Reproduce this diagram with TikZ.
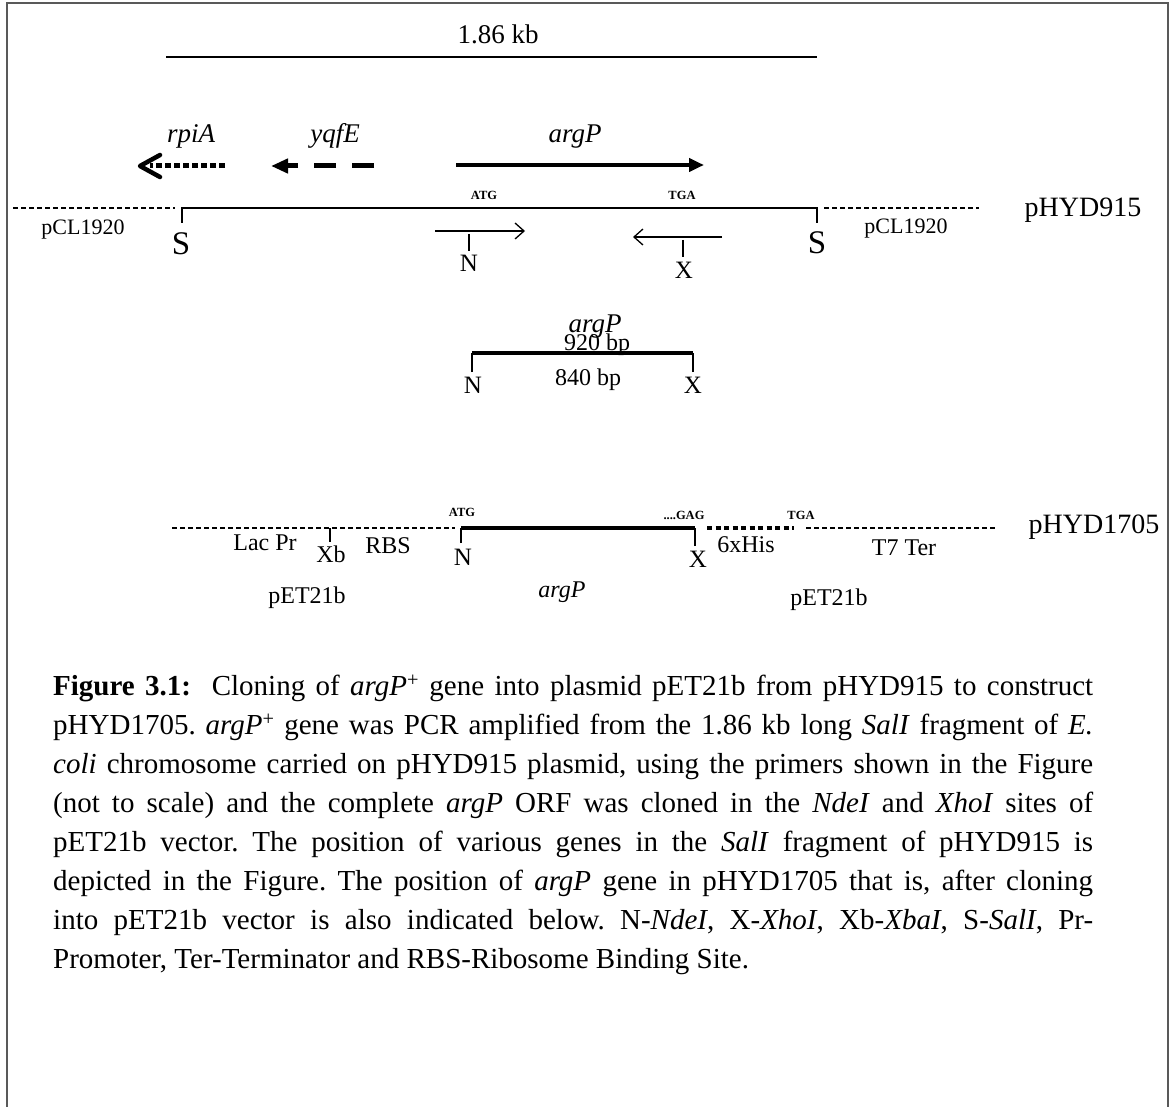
\documentclass[tikz,border=0pt]{standalone}
\usepackage{fontspec}
\setmainfont{Liberation Serif}
\usetikzlibrary{arrows.meta}
\frenchspacing
\begin{document}
\begin{tikzpicture}[x=1pt,y=-1pt,
 lbl/.style={inner sep=0pt, anchor=base},
 rm22/.style={lbl,font=\fontsize{22}{26}\selectfont},
 rm24/.style={lbl,font=\fontsize{24}{28}\selectfont},
 rm25/.style={lbl,font=\fontsize{25}{29}\selectfont},
 rm27/.style={lbl,font=\fontsize{27}{31}\selectfont},
 big/.style={lbl,font=\fontsize{28}{32}\selectfont},
 ess/.style={lbl,font=\fontsize{33}{36}\selectfont},
 gene/.style={lbl,font=\fontsize{27}{31}\selectfont\itshape},
 gsmall/.style={lbl,font=\fontsize{24}{28}\selectfont\itshape},
 codon/.style={lbl,font=\fontsize{12.5}{14}\selectfont\bfseries},
 dna/.style={line width=1.5pt},
 vec/.style={line width=1.2pt, dash pattern=on 5pt off 3pt},
 thickdna/.style={line width=3.5pt},
 tick/.style={line width=1.5pt},
 primer/.style={line width=1.3pt, -{Straight Barb[length=9pt,width=16pt,line width=1.3pt]}},
]
\useasboundingbox (0,0) rectangle (1175,1107);
% frame
\draw[line width=2pt, black!65] (7,1107) -- (7,3) -- (1168,3) -- (1168,1107);

% scale
\node[rm27] (kb) at (498,44) {1.86 kb};
\coordinate (kbL) at (166,57); \coordinate (kbR) at (817,57);
\draw[line width=2pt] (kbL) -- (kbR);

% genes
\node[gene] (rpiA) at (191,143) {rpiA};
\node[gene] (yqfE) at (335,143) {yqfE};
\node[gene] (argPt) at (575,143) {argP};
\coordinate (rpiT) at (225,166); \coordinate (rpiE) at (150,166); \coordinate (rpiH) at (140,166);
\draw[line width=5pt, dash pattern=on 6pt off 3pt] (rpiT) -- (rpiE);
\draw[line width=4.5pt, line cap=round, line join=round] (160,155) -- (rpiH) -- (160,177);
\coordinate (yqT) at (374,166); \coordinate (yqH) at (271,166);
\draw[line width=5pt, dash pattern=on 22pt off 16pt, -{Triangle[length=17pt,width=14pt]}] (yqT) -- (yqH);
\coordinate (agT) at (456,165); \coordinate (agH) at (704,165);
\draw[line width=4pt, -{Triangle[length=15pt,width=13pt]}] (agT) -- (agH);

% pHYD915
\node[codon] (atg1) at (484,200) {ATG};
\node[codon] (tga1) at (682,200) {TGA};
\coordinate (S1) at (182,208); \coordinate (S2) at (817,208);
\coordinate (S1d) at (182,223); \coordinate (S2d) at (817,223);
\draw[dna] (S1d) -- (S1) -- (S2) -- (S2d);
\coordinate (v1a) at (13,208); \coordinate (v1b) at (175,208);
\coordinate (v2a) at (824,208); \coordinate (v2b) at (979,208);
\draw[vec] (v1a) -- (v1b);
\draw[vec] (v2a) -- (v2b);
\node[rm22] (pcl1) at (83,235) {pCL1920};
\node[rm22] (pcl2) at (906,234) {pCL1920};
\node[big] (p915) at (1083,217) {pHYD915};
\node[ess] (s1) at (181,255) {S};
\node[ess] (s2) at (817,254) {S};

% primers
\coordinate (fw1) at (435,231); \coordinate (fw2) at (525,231);
\draw[primer] (fw1) -- (fw2);
\coordinate (nt1) at (469,234); \coordinate (nt2) at (469,251);
\draw[tick] (nt1) -- (nt2);
\node[rm25] (n1) at (469,272) {N};
\coordinate (rv1) at (722,237); \coordinate (rv2) at (633,237);
\draw[primer] (rv1) -- (rv2);
\coordinate (xt1) at (683,240); \coordinate (xt2) at (683,257);
\draw[tick] (xt1) -- (xt2);
\node[rm25] (x1) at (684,279) {X};

% PCR fragment
\node[gene] (argP2) at (595,332) {argP};
\node[rm24] (bp920) at (597,350) {920 bp};
\coordinate (fN) at (472,353); \coordinate (fX) at (693,353);
\coordinate (fNd) at (472,372); \coordinate (fXd) at (693,372);
\draw[line width=2pt] (fNd) -- (fN);
\draw[line width=2pt] (fXd) -- (fX);
\draw[thickdna] (fN) -- (fX);
\node[rm25] (n2) at (473,393) {N};
\node[rm25] (x2) at (693,393) {X};
\node[rm24] (bp840) at (588,385) {840 bp};

% pHYD1705
\coordinate (pa) at (172,528); \coordinate (pb) at (455,528);
\draw[vec] (pa) -- (pb);
\coordinate (xbt) at (330,528); \coordinate (xbd) at (330,542);
\draw[tick] (xbt) -- (xbd);
\coordinate (N3) at (461,528); \coordinate (X3) at (695,528);
\coordinate (N3d) at (461,543); \coordinate (X3d) at (695,546);
\draw[tick] (N3d) -- (N3);
\draw[tick] (X3d) -- (X3);
\draw[thickdna] (N3) -- (X3);
\coordinate (hisA) at (707,528); \coordinate (hisB) at (794,528);
\draw[line width=4pt, dash pattern=on 5pt off 3.5pt] (hisA) -- (hisB);
\coordinate (tA) at (806,528); \coordinate (tB) at (996,528);
\draw[vec] (tA) -- (tB);
\node[codon] (atg2) at (462,516) {ATG};
\node[codon] (gag) at (684,519) {....GAG};
\node[codon] (tga2) at (801,519) {TGA};
\node[rm24] (lac) at (265,550) {Lac Pr};
\node[rm24] (xb) at (331,562) {Xb};
\node[rm24] (rbs) at (388,553) {RBS};
\node[rm25] (n3) at (463,565) {N};
\node[rm25] (x3) at (698,567) {X};
\node[rm24] (his) at (746,552) {6xHis};
\node[rm24] (t7) at (904,555) {T7 Ter};
\node[big] (p1705) at (1094,533) {pHYD1705};
\node[rm24] (pet1) at (307,603) {pET21b};
\node[gsmall] (argP3) at (562,597) {argP};
\node[rm24] (pet2) at (829,605) {pET21b};

% caption
\node[inner sep=0pt, anchor=north west, text width=1040pt, align=justify,
      font=\fontsize{29}{39}\selectfont] (cap) at (53,675)
{\hyphenpenalty=10000\tolerance=9999\textbf{Figure 3.1:}\ \ Cloning of \textit{argP}\textsuperscript{+} gene into plasmid pET21b from pHYD915 to construct\linebreak
pHYD1705. \textit{argP}\textsuperscript{+} gene was PCR amplified from the 1.86 kb long \textit{SalI} fragment of \textit{E.}\linebreak
\textit{coli} chromosome carried on pHYD915 plasmid, using the primers shown in the Figure\linebreak
(not to scale) and the complete \textit{argP} ORF was cloned in the \textit{NdeI} and \textit{XhoI} sites of\linebreak
pET21b vector. The position of various genes in the \textit{SalI} fragment of pHYD915 is\linebreak
depicted in the Figure. The position of \textit{argP} gene in pHYD1705 that is, after cloning\linebreak
into pET21b vector is also indicated below. N-\textit{NdeI}, X-\textit{XhoI}, Xb-\textit{XbaI}, S-\textit{SalI}, Pr-\linebreak
Promoter, Ter-Terminator and RBS-Ribosome Binding Site.};
\end{tikzpicture}
\end{document}
